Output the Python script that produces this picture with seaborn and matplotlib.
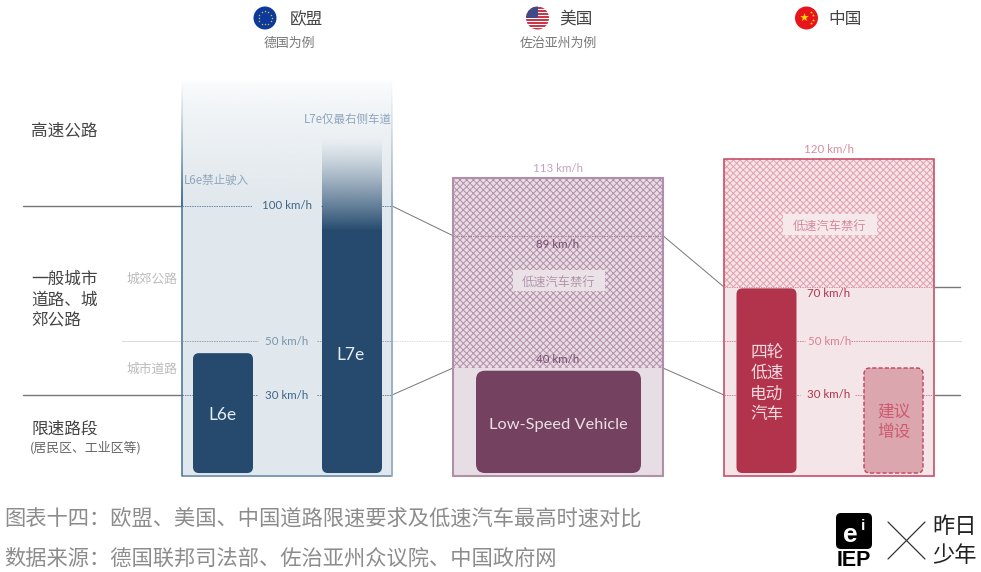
import numpy as np
import pandas as pd
import matplotlib
matplotlib.use("Agg")
import matplotlib.pyplot as plt
import seaborn as sns
from matplotlib.colors import to_rgb
from matplotlib.patches import Ellipse, FancyBboxPatch, Rectangle

# =========================================
# DATA (km/h)
# =========================================

VEHICLES = ["L6e", "L7e", "Low-Speed Vehicle", "四轮低速电动汽车", "建议增设"]
VEHICLE_SPEED = [45.5, 125, 39, 69.5, 40]

EU_LIMITS = [30, 50, 100]
US_LIMITS = [40, 89, 113]
CN_LIMITS = [30, 50, 70, 120]

# height of the drawn boxes on the speed scale
US_BOX_TOP = 110.5
CN_BOX_TOP = 117.5

HEADERS = ["欧盟", "美国", "中国"]
SUB_HEADERS = ["德国为例", "佐治亚州为例"]
ROAD_LABELS = ["高速公路", "一般城市\n道路、城\n郊公路", "限速路段"]
ROAD_NOTE = "(居民区、工业区等)"
ROAD_SMALL = ["城郊公路", "城市道路"]
BAN_LABEL = "低速汽车禁行"
CAPTION = "图表十四\uff1a欧盟、美国、中国道路限速要求及低速汽车最高时速对比"
SOURCE = "数据来源\uff1a德国联邦司法部、佐治亚州众议院、中国政府网"

# =========================================
# LAYOUT AND COLOURS
# =========================================

W, H = 981, 572
Y0 = 476        # pixel row of 0 km/h
PX_PER_KMH = 2.7

EU_X = (182, 392)
US_X = (453, 663)
CN_X = (724, 934)

BAR_CENTER = [223, 352, 558.5, 766.5, 893.5]
BAR_WIDTH = [60, 60, 165, 60, 59]
BAR_FOOT = 1.1
BAR_COLOR = ["#254a6e", "#254a6e", "#744260", "#b1334c", "#dba6ae"]

EU_FILL = "#e1e8ed"
US_FILL = "#e7dde4"
CN_FILL = "#f4e5e8"
EU_TEXT = "#3f6488"
LATIN = "Lato"
TEXT_SHIFT = 1.5


def sy(py):
    # pixel row to speed scale
    return (Y0 - py) / PX_PER_KMH


sns.set_theme(style="white")
plt.rcParams["font.family"] = ["Noto Sans CJK SC", "DejaVu Sans"]
plt.rcParams["font.weight"] = "light"
plt.rcParams["hatch.linewidth"] = 0.7

fig = plt.figure(figsize=(W / 100, H / 100), dpi=100)
ax = fig.add_axes([0, 0, 1, 1])

# =========================================
# PANELS
# =========================================

# EU panel fades out towards the top
ax.add_patch(Rectangle((EU_X[0], 0), EU_X[1] - EU_X[0], 100, fc=EU_FILL, ec="none", zorder=1))


def v_fade(x0, x1, v0, v1, color, power=1.0, zorder=2):
    # vertical fade, alpha 0 at v1, alpha 1 at v0
    rgba = np.ones((256, 1, 4))
    rgba[:, :, :3] = to_rgb(color)
    rgba[:, 0, 3] = np.linspace(0, 1, 256) ** power
    return ax.imshow(rgba, extent=(x0, x1, v0, v1), origin="upper", aspect="auto",
                     zorder=zorder, interpolation="bilinear")


v_fade(EU_X[0], EU_X[1], 100, sy(80), EU_FILL, power=0.55, zorder=1)

ax.plot([EU_X[0], EU_X[1]], [0, 0], color="#7d9ab5", lw=1.4, zorder=3, solid_capstyle="butt")
ax.plot([EU_X[0], EU_X[0]], [0, 100], color="#3f6f98", lw=1.1, zorder=3)
ax.plot([EU_X[1], EU_X[1]], [0, 100], color="#9bb0c4", lw=1.4, zorder=3)
v_fade(EU_X[0] - 0.6, EU_X[0] + 0.6, 100, sy(80), "#3f6f98", power=1.2, zorder=3)
v_fade(EU_X[1] - 0.8, EU_X[1] + 0.8, 100, sy(80), "#9bb0c4", power=1.2, zorder=3)

# US and China boxes, hatched above the low speed vehicle limit
ax.add_patch(Rectangle((US_X[0], 0), 210, US_BOX_TOP, fc=US_FILL, ec="none", zorder=1))
ax.add_patch(Rectangle((US_X[0], US_LIMITS[0]), 210, US_BOX_TOP - US_LIMITS[0], fc="none",
                       ec="#b58fa9", hatch="xxxxx", lw=0, zorder=2))
ax.add_patch(Rectangle((US_X[0], 0), 210, US_BOX_TOP, fc="none", ec="#b08fa8", lw=1.5, zorder=3))

ax.add_patch(Rectangle((CN_X[0], 0), 210, CN_BOX_TOP, fc=CN_FILL, ec="none", zorder=1))
ax.add_patch(Rectangle((CN_X[0], CN_LIMITS[2]), 210, CN_BOX_TOP - CN_LIMITS[2], fc="none",
                       ec="#e3a0ae", hatch="xxxxx", lw=0, zorder=2))
ax.add_patch(Rectangle((CN_X[0], 0), 210, CN_BOX_TOP, fc="none", ec="#c8506a", lw=1.2, zorder=3))

# =========================================
# VEHICLE BARS
# =========================================

bars = pd.DataFrame({"name": VEHICLES, "speed": VEHICLE_SPEED, "center": BAR_CENTER})

sns.barplot(data=bars, x="center", y="speed", hue="name", palette=dict(zip(VEHICLES, BAR_COLOR)),
            native_scale=True, dodge=False, legend=False, ax=ax)

# swap the plain bars for rounded ones, same height
for patch in [p for p in ax.patches if isinstance(p, Rectangle) and p.get_zorder() < 1.5 and p.get_height() in VEHICLE_SPEED]:
    cx = patch.get_x() + patch.get_width() / 2
    i = int(np.argmin(np.abs(np.array(BAR_CENTER) - cx)))
    h = patch.get_height()
    patch.remove()
    round_bar = FancyBboxPatch((BAR_CENTER[i] - BAR_WIDTH[i] / 2, BAR_FOOT), BAR_WIDTH[i], h - BAR_FOOT,
                               boxstyle="round,pad=0,rounding_size=%d" % (9 if i == 2 else 6),
                               mutation_aspect=1 / PX_PER_KMH, fc=BAR_COLOR[i], ec="none", zorder=4)
    ax.add_patch(round_bar)
    if VEHICLES[i] == "L7e":
        round_bar.set_facecolor("none")
        solid = Rectangle((BAR_CENTER[i] - 30, 15), 60, 76, fc=BAR_COLOR[i], ec="none", zorder=4)
        ax.add_patch(solid)
        ax.add_patch(FancyBboxPatch((BAR_CENTER[i] - 30, BAR_FOOT), 60, 40,
                                    boxstyle="round,pad=0,rounding_size=6", mutation_aspect=1 / PX_PER_KMH,
                                    fc=BAR_COLOR[i], ec="none", zorder=4))
        v_fade(BAR_CENTER[i] - 30, BAR_CENTER[i] + 30, 90.9, h, BAR_COLOR[i], power=1.3, zorder=4)
    if VEHICLES[i] == "建议增设":
        round_bar.set_edgecolor("#c4405a")
        round_bar.set_linewidth(1.0)
        round_bar.set_linestyle((0, (3, 1.5)))

# =========================================
# LIMIT LINES
# =========================================

SOLID = "#777777"
dot = dict(lw=0.7, ls=(0, (1.5, 1)), zorder=3)


def hl(x0, x1, v, color, **kw):
    ax.plot([x0, x1], [v, v], color=color, **kw)


# 100 / 89 / 70 km/h band
hl(23, EU_X[0], EU_LIMITS[2], SOLID, lw=1)
hl(EU_X[0], 252, EU_LIMITS[2], "#5f86a8", **dot)
hl(321, 323, EU_LIMITS[2], "#5f86a8", **dot)
hl(382, EU_X[1], EU_LIMITS[2], "#5f86a8", **dot)
ax.plot([EU_X[1], US_X[0]], [EU_LIMITS[2], US_LIMITS[1]], color=SOLID, lw=0.7)
hl(US_X[0], US_X[1], US_LIMITS[1], "#a87f9b", **dot)
ax.plot([US_X[1], CN_X[0]], [US_LIMITS[1], CN_LIMITS[2]], color=SOLID, lw=0.7)
hl(CN_X[0], CN_X[1], CN_LIMITS[2], "#dc8fa0", **dot)
hl(CN_X[1], 960, CN_LIMITS[2], SOLID, lw=1)

# 50 km/h band
hl(122, EU_X[0], EU_LIMITS[1], "#dddddd", lw=0.8)
hl(EU_X[0], 258, EU_LIMITS[1], "#8ea5ba", **dot)
hl(317, 322, EU_LIMITS[1], "#8ea5ba", **dot)
hl(382, EU_X[1], EU_LIMITS[1], "#8ea5ba", **dot)
hl(EU_X[1], US_X[0], EU_LIMITS[1], "#dddddd", lw=0.7, ls=(0, (1.5, 1)))
hl(US_X[1], CN_X[0], EU_LIMITS[1], "#dddddd", lw=0.7, ls=(0, (1.5, 1)))
hl(CN_X[0], 736, CN_LIMITS[1], "#d9808f", **dot)
hl(797, 805, CN_LIMITS[1], "#d9808f", **dot)
hl(851, CN_X[1], CN_LIMITS[1], "#d9808f", **dot)
hl(CN_X[1], 961, CN_LIMITS[1], "#dddddd", lw=0.8)

# 30 / 40 km/h band
hl(23, EU_X[0], EU_LIMITS[0], SOLID, lw=1)
hl(EU_X[0], 193, EU_LIMITS[0], "#5f86a8", **dot)
hl(253, 258, EU_LIMITS[0], "#5f86a8", **dot)
hl(317, 322, EU_LIMITS[0], "#5f86a8", **dot)
hl(382, EU_X[1], EU_LIMITS[0], "#5f86a8", **dot)
ax.plot([EU_X[1], US_X[0]], [EU_LIMITS[0], US_LIMITS[0]], color=SOLID, lw=0.7)
ax.plot([US_X[1], CN_X[0]], [US_LIMITS[0], CN_LIMITS[0]], color=SOLID, lw=0.7)
hl(CN_X[0], 736, CN_LIMITS[0], "#d9808f", **dot)
hl(797, 800, CN_LIMITS[0], "#d9808f", **dot)
hl(855, 864, CN_LIMITS[0], "#d9808f", **dot)
hl(923, CN_X[1], CN_LIMITS[0], "#d9808f", **dot)
hl(CN_X[1], 960, CN_LIMITS[0], SOLID, lw=1)

# =========================================
# TEXT
# =========================================


def label(x, py, s, size, color, ha="center", va="center", **kw):
    kw.setdefault("zorder", 6)
    return ax.text(x, sy(py + TEXT_SHIFT), s, fontsize=size, color=color, ha=ha, va=va, **kw)


def speed_label(x, py, value, color):
    label(x, py, "%d km/h" % value, 8.3, color, family=LATIN, weight="regular")


speed_label(287, 204, EU_LIMITS[2], EU_TEXT)
speed_label(287, 340, EU_LIMITS[1], "#7b94ac")
speed_label(287, 394, EU_LIMITS[0], EU_TEXT)
speed_label(558, 167, US_LIMITS[2], "#c4a3b9")
speed_label(558, 243, US_LIMITS[1], "#7a5070")
speed_label(558, 358, US_LIMITS[0], "#7a5070")
speed_label(829, 148, CN_LIMITS[3], "#d98c9c")
speed_label(829, 292, CN_LIMITS[2], "#b1334c")
speed_label(830, 340, CN_LIMITS[1], "#d9808f")
speed_label(829, 393, CN_LIMITS[0], "#b1334c")

# headers
label(306, 18, HEADERS[0], 12, "#444444")
label(576, 18, HEADERS[1], 12, "#444444")
label(845, 18, HEADERS[2], 12, "#444444")
label(289, 42, SUB_HEADERS[0], 9.3, "#777777")
label(558, 42, SUB_HEADERS[1], 9.3, "#777777")

# road types
label(31, 129, ROAD_LABELS[0], 12, "#444444", ha="left")
label(31, 299, ROAD_LABELS[1], 12, "#444444", ha="left", linespacing=1.3)
label(31, 428, ROAD_LABELS[2], 12, "#444444", ha="left")
label(30, 446, ROAD_NOTE, 9.3, "#666666", ha="left")
label(152, 278, ROAD_SMALL[0], 9.2, "#bbbbbb")
label(152, 368, ROAD_SMALL[1], 9.2, "#bbbbbb")

# notes inside the EU panel
label(184, 179, "L6e禁止驶入", 8.3, "#8fa6bd", ha="left")
label(304, 118, "L7e仅最右侧车道", 8.3, "#8fa6bd", ha="left")

# ban tags
ax.add_patch(Rectangle((513, sy(291)), 92, 21 / PX_PER_KMH, fc="#ebe2e8", ec="none", zorder=4))
label(559, 281, BAN_LABEL, 8.8, "#b295aa")
ax.add_patch(Rectangle((783, sy(235)), 94, 21 / PX_PER_KMH, fc="#f6e9ec", ec="none", zorder=4))
label(830, 225, BAN_LABEL, 8.8, "#d68a9a")

# bar names
label(222, 413, VEHICLES[0], 12.5, "#e6ecf1", family=LATIN, weight="regular")
label(351, 354, VEHICLES[1], 12.5, "#e6ecf1", family=LATIN, weight="regular")
label(558.5, 423, VEHICLES[2], 11.8, "#eadfe6", family=LATIN, weight="regular")
label(767, 382, "四轮\n低速\n电动\n汽车", 12, "#f4d9de", linespacing=1.3)
label(893.5, 421, "建议\n增设", 12, "#cf5a70", linespacing=1.3)

# caption and source
label(4, 517, CAPTION, 15.3, "#8c8c8c", ha="left")
label(4, 557, SOURCE, 15.3, "#8c8c8c", ha="left")

# =========================================
# FLAGS
# =========================================


def disc(cx, cy, color, r=11.5, **kw):
    e = Ellipse((cx, sy(cy)), 2 * r, 2 * r / PX_PER_KMH, fc=color, ec="none", **kw)
    ax.add_patch(e)
    return e


disc(265, 18, "#0b3a9c", zorder=5)
star_angle = np.arange(12) * np.pi / 6
ax.scatter(265 + 6.5 * np.cos(star_angle), sy(18) + 6.5 * np.sin(star_angle) / PX_PER_KMH,
           marker="*", s=3, color="#e8c33a", linewidths=0, zorder=6)

us_disc = disc(537.5, 18, "white", zorder=5)
for row in range(7, 30, 3):
    stripe = Rectangle((526, sy(row + 1.6)), 23, 1.6 / PX_PER_KMH, fc="#c8374a", ec="none", zorder=6)
    ax.add_patch(stripe)
    stripe.set_clip_path(us_disc)
canton = Rectangle((526, sy(18)), 11.5, 11.5 / PX_PER_KMH, fc="#3f4a86", ec="none", zorder=7)
ax.add_patch(canton)
canton.set_clip_path(us_disc)

disc(806.5, 18, "#e8141c", zorder=5)
ax.scatter([804], [sy(17)], marker="*", s=42, color="#ffd800", linewidths=0, zorder=6)
ax.scatter([811, 813, 813, 811], [sy(c) for c in (12, 15, 20, 23)], marker="*", s=5,
           color="#ffd800", linewidths=0, zorder=6)

# =========================================
# LOGOS
# =========================================

ax.add_patch(FancyBboxPatch((836, sy(549)), 36, 36 / PX_PER_KMH, boxstyle="round,pad=0,rounding_size=5",
                            mutation_aspect=1 / PX_PER_KMH, fc="black", ec="none", zorder=5))
label(850, 533, "e", 19, "white", family="Liberation Sans", weight="bold")
label(863, 525, "i", 11, "white", family="Liberation Sans", weight="bold")
label(854, 558.5, "IEP", 15.5, "black", family="Liberation Sans", weight="bold")
ax.plot([888, 925], [sy(522), sy(559)], color="#333333", lw=0.9)
ax.plot([888, 925], [sy(559), sy(522)], color="#333333", lw=0.9)
label(955, 525, "昨日", 16, "#222222")
label(955, 554, "少年", 16, "#222222")

ax.set_xlim(0, W)
ax.set_ylim(sy(H), sy(0))
ax.axis("off")

plt.savefig("out.png", dpi=100)
plt.close()
